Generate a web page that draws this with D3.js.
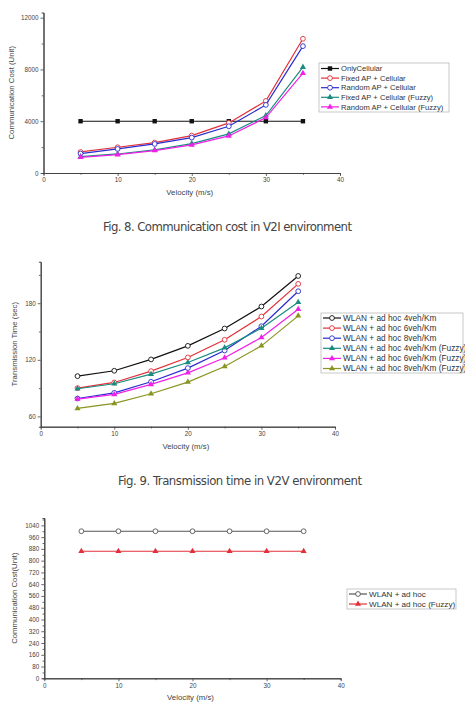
<!DOCTYPE html>
<html>
<head>
<meta charset="utf-8">
<script src="https://cdn.jsdelivr.net/npm/d3@7"></script>
<style>
  body { margin: 0; background: #fff; }
  svg { display: block; font-family: "Liberation Sans", Arial, sans-serif; }
</style>
</head>
<body>
<script>
// Values (approximate)
var velocity = [5, 10, 15, 20, 25, 30, 35];

// Fig. 8 - communication cost, V2I
var v2iNames = ['OnlyCellular', 'Fixed AP + Cellular', 'Random AP + Cellular',
                'Fixed AP + Cellular (Fuzzy)', 'Random AP + Cellular (Fuzzy)'];
var onlyCellular   = [4000, 4000, 4000, 4000, 4000, 4000, 4000];
var fixedAp        = [1625, 1990, 2350, 2890, 3870, 5570, 10370];
var randomAp       = [1500, 1860, 2245, 2735, 3610, 5260, 9800];
var fixedApFuzzy   = [1265, 1470, 1780, 2270, 3020, 4440, 8180];
var randomApFuzzy  = [1210, 1420, 1730, 2170, 2865, 4280, 7710];
var v2iTicks = [0, 4000, 8000, 12000];

// Fig. 9 - transmission time, V2V
var v2vNames = ['WLAN + ad hoc 4veh/Km', 'WLAN + ad hoc 6veh/Km', 'WLAN + ad hoc 8veh/Km',
                'WLAN + ad hoc 4veh/Km (Fuzzy)', 'WLAN + ad hoc 6veh/Km (Fuzzy)', 'WLAN + ad hoc 8veh/Km (Fuzzy)'];
var wlan4      = [102.7, 108.4, 120.4, 134.8, 153.2, 176.5, 208.9];
var wlan6      = [90.0, 96.0, 108.0, 122.5, 141.2, 165.9, 200.5];
var wlan8      = [79.0, 85.0, 96.7, 111.2, 129.9, 155.6, 192.7];
var wlan4Fuzzy = [89.3, 94.6, 104.8, 117.2, 132.7, 153.5, 181.1];
var wlan6Fuzzy = [78.4, 83.3, 93.9, 106.2, 122.1, 143.6, 173.6];
var wlan8Fuzzy = [68.5, 73.8, 84.0, 96.4, 112.9, 134.8, 166.6];
var v2vTicks = [60, 120, 180];

// Fig. 10 - communication cost, WLAN + ad hoc
var adhocNames = ['WLAN + ad hoc', 'WLAN + ad hoc (Fuzzy)'];
var adhoc      = [1000, 1000, 1000, 1000, 1000, 1000, 1000];
var adhocFuzzy = [864, 864, 864, 864, 864, 864, 864];
var adhocTicks = d3.range(0, 1041, 80);

var xTicks = [0, 10, 20, 30, 40];
var captions = ['Fig. 8. Communication cost in V2I environment',
                'Fig. 9. Transmission time in V2V environment'];

// Styles
var colors = {
  black: '#111', red: '#e2303a', blue: '#2b2bd0', teal: '#1a8c80',
  magenta: '#f020e8', olive: '#8a9420', gray: '#555'
};

var svg = d3.select('body').append('svg')
  .attr('width', 465).attr('height', 711);

var drawPanel = function(p) {
  var x = d3.scaleLinear().domain([0, 40]).range([p.left, p.right]);
  var y = d3.scaleLinear().domain(p.yDomain).range([p.bottom, p.top]);
  var g = svg.append('g');

  // axes (plain integer labels, no thousands separator)
  var fmt = d3.format('d');
  var xAxis = d3.axisBottom(x).tickValues(xTicks).tickFormat(fmt).tickSize(3).tickSizeOuter(0).tickPadding(2);
  var xMinor = d3.axisBottom(x).tickValues([5, 15, 25, 35]).tickSize(1.8).tickFormat('');
  var yAxis = d3.axisLeft(y).tickValues(p.yTicks).tickFormat(fmt).tickSize(3).tickSizeOuter(0).tickPadding(2);
  var yMinor = d3.axisLeft(y).tickValues(p.yMinor).tickSize(1.8).tickFormat('');

  [[xAxis, 'x'], [xMinor, 'x'], [yAxis, 'y'], [yMinor, 'y']].forEach(a => {
    var ax = g.append('g')
      .attr('transform', a[1] == 'x' ? 'translate(0,' + p.bottom + ')' : 'translate(' + p.left + ',0)')
      .call(a[0]);
    ax.selectAll('path').attr('stroke', '#444').attr('stroke-width', 1);
    ax.selectAll('line').attr('stroke', '#444').attr('stroke-width', 0.8);
    ax.selectAll('text').attr('fill', '#444').style('font-size', '6.3px');
  });

  // axis titles
  g.append('text')
    .attr('x', (p.left + p.right) / 2 - 2).attr('y', p.bottom + 22)
    .attr('text-anchor', 'middle').attr('fill', '#444')
    .style('font-size', '7.8px')
    .text('Velocity (m/s)');
  g.append('text')
    .attr('transform', 'translate(' + p.yTitleX + ',' + (p.top + p.bottom) / 2 + ') rotate(-90)')
    .attr('text-anchor', 'middle').attr('fill', '#444')
    .style('font-size', '7.8px')
    .text(p.yTitle);

  var line = d3.line().x((d, i) => x(velocity[i])).y(d => y(d));

  p.series.forEach(s => {
    g.append('path').datum(s.values)
      .attr('d', line).attr('fill', 'none')
      .attr('stroke', s.color).attr('stroke-width', 1.2);
    var pts = g.selectAll(null).data(s.values).enter();
    drawMarkers(pts, s, (d, i) => x(velocity[i]), d => y(d));
  });

  // legend
  var lg = g.append('g');
  lg.append('rect')
    .attr('x', p.legend.x).attr('y', p.legend.y)
    .attr('width', p.legend.w).attr('height', p.legend.h)
    .attr('fill', '#fff').attr('stroke', '#bbb').attr('stroke-width', 0.8);
  p.series.forEach((s, i) => {
    var ly = p.legend.y + p.legend.pad + i * p.legend.step;
    var lx0 = p.legend.x + 2, lx1 = p.legend.x + p.legend.sample;
    lg.append('line')
      .attr('x1', lx0).attr('x2', lx1).attr('y1', ly).attr('y2', ly)
      .attr('stroke', s.color).attr('stroke-width', 1.2);
    drawMarkers(lg.selectAll(null).data([0]).enter(), s, () => (lx0 + lx1) / 2, () => ly);
    lg.append('text')
      .attr('x', lx1 + 2).attr('y', ly + p.legend.font * 0.36)
      .attr('fill', '#333').style('font-size', p.legend.font + 'px')
      .text(s.name);
  });
}

var drawMarkers = function(sel, s, fx, fy) {
  if (s.marker == 'circle') {
    sel.append('circle')
      .attr('cx', fx).attr('cy', fy).attr('r', 2.4)
      .attr('fill', '#fff').attr('stroke', s.color).attr('stroke-width', 0.9);
  } else if (s.marker == 'square') {
    sel.append('rect')
      .attr('x', (d, i) => fx(d, i) - 2.2).attr('y', (d, i) => fy(d, i) - 2.2)
      .attr('width', 4.4).attr('height', 4.4).attr('fill', s.color);
  } else {
    sel.append('path')
      .attr('d', d3.symbol().type(d3.symbolTriangle).size(16))
      .attr('transform', (d, i) => 'translate(' + fx(d, i) + ',' + fy(d, i) + ')')
      .attr('fill', s.color);
  }
}

drawPanel({
  left: 43.5, right: 340, top: 12.5, bottom: 173,
  yDomain: [0, 12400], yTicks: v2iTicks, yMinor: [2000, 6000, 10000],
  yTitle: 'Communication Cost (Unit)', yTitleX: 14,
  legend: { x: 319, y: 63, w: 130, h: 49, pad: 5.5, step: 9.6, sample: 20, font: 7.6 },
  series: [
    { name: v2iNames[0], values: onlyCellular,  color: colors.black,   marker: 'square' },
    { name: v2iNames[1], values: fixedAp,       color: colors.red,     marker: 'circle' },
    { name: v2iNames[2], values: randomAp,      color: colors.blue,    marker: 'circle' },
    { name: v2iNames[3], values: fixedApFuzzy,  color: colors.teal,    marker: 'triangle' },
    { name: v2iNames[4], values: randomApFuzzy, color: colors.magenta, marker: 'triangle' }
  ]
});

drawPanel({
  left: 40.7, right: 335, top: 261.7, bottom: 426.7,
  yDomain: [49.1, 224], yTicks: v2vTicks, yMinor: [90, 150, 210],
  yTitle: 'Transmission Time (sec)', yTitleX: 17,
  legend: { x: 321, y: 313, w: 142, h: 60, pad: 5, step: 10.1, sample: 20, font: 8.3 },
  series: [
    { name: v2vNames[0], values: wlan4,      color: colors.black,   marker: 'circle' },
    { name: v2vNames[1], values: wlan6,      color: colors.red,     marker: 'circle' },
    { name: v2vNames[2], values: wlan8,      color: colors.blue,    marker: 'circle' },
    { name: v2vNames[3], values: wlan4Fuzzy, color: colors.teal,    marker: 'triangle' },
    { name: v2vNames[4], values: wlan6Fuzzy, color: colors.magenta, marker: 'triangle' },
    { name: v2vNames[5], values: wlan8Fuzzy, color: colors.olive,   marker: 'triangle' }
  ]
});

drawPanel({
  left: 44.3, right: 340.7, top: 518, bottom: 678.3,
  yDomain: [0, 1090], yTicks: adhocTicks, yMinor: d3.range(40, 1090, 80),
  yTitle: 'Communication Cost(Unit)', yTitleX: 17,
  legend: { x: 347, y: 589, w: 109, h: 20, pad: 5, step: 10, sample: 20, font: 8.1 },
  series: [
    { name: adhocNames[0], values: adhoc,      color: colors.gray, marker: 'circle' },
    { name: adhocNames[1], values: adhocFuzzy, color: colors.red,  marker: 'triangle' }
  ]
});

// figure captions
var capPos = [{ x: 103, y: 231, w: 249 }, { x: 118, y: 485, w: 244 }];
captions.forEach((c, i) => {
  svg.append('text')
    .attr('x', capPos[i].x).attr('y', capPos[i].y)
    .attr('textLength', capPos[i].w).attr('lengthAdjust', 'spacing')
    .attr('fill', '#444')
    .style('font-family', '"Liberation Sans Narrow", "DejaVu Sans Condensed", sans-serif')
    .style('font-size', '13px')
    .text(c);
});
</script>
</body>
</html>
